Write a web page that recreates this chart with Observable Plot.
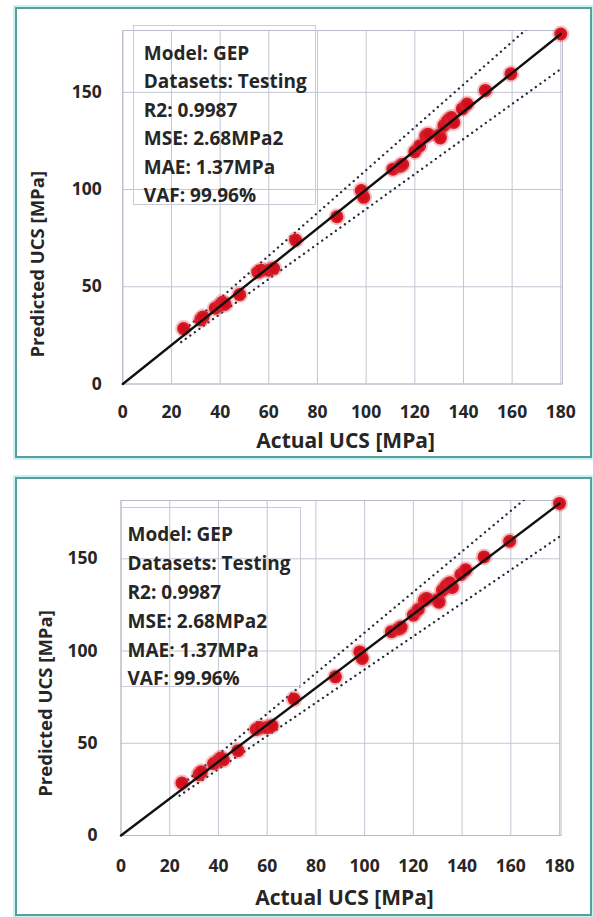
<!DOCTYPE html>
<html><head><meta charset="utf-8">
<script src="https://cdn.jsdelivr.net/npm/d3@7"></script>
<script src="https://cdn.jsdelivr.net/npm/@observablehq/plot@0.6"></script>
<style>
body{margin:0;background:#fff;}
#root{position:relative;width:593px;height:917px;overflow:hidden;font-family:"Open Sans",sans-serif;}
.chart{position:absolute;left:0;z-index:1;}
.panel{position:absolute;border:2px solid #5b9c9d;box-shadow:0 0 0 2px #c6f3f3;box-sizing:border-box;z-index:2;pointer-events:none;}
.legend{position:absolute;border:1px solid #cdc8d6;box-sizing:border-box;z-index:2;}
</style></head><body><div id="root"></div>
<script>
// ---- data ----
const actual    = [25, 32, 33, 38, 40, 41, 42, 48, 55.5, 57, 60, 62, 71, 88, 98, 99, 111, 114, 115, 120, 122, 124.5, 125.5, 130, 130.5, 132, 133.5, 135, 136, 139.5, 141.5, 149, 159.5, 180];
const predicted = [28.5, 33, 34.5, 39, 40.5, 42, 41, 46, 57.5, 58.5, 58.5, 59.5, 74, 86, 99.5, 96, 110.5, 112, 113, 119.5, 122.5, 127.5, 128.5, 128, 126.5, 133, 135.5, 137, 134.5, 141.5, 144, 151, 159.5, 180];
const idealX = [0, 180];
const idealY = [0, 180];
const boundX = [24, 180];
const upperY = [26.4, 198];
const lowerY = [21.6, 162];
const xTicks = [0, 20, 40, 60, 80, 100, 120, 140, 160, 180];
const yTicks = [0, 50, 100, 150];
const legendLines = ["Model: GEP", "Datasets: Testing", "R2: 0.9987", "MSE: 2.68MPa2", "MAE: 1.37MPa", "VAF: 99.96%"];
const xLabel = "Actual UCS [MPa]";
const yLabel = "Predicted UCS [MPa]";

const points = actual.map((a, i) => ({a, p: predicted[i]}));
const ideal = idealX.map((x, i) => ({x, y: idealY[i]}));
const upper = boundX.map((x, i) => ({x, y: upperY[i]}));
const lower = boundX.map((x, i) => ({x, y: lowerY[i]}));

const root = document.getElementById("root");
const ink = "#262626";

function panel(L) {
  const chart = Plot.plot({
    width: 593, height: L.height,
    marginLeft: L.ml, marginRight: L.mr, marginTop: L.mt, marginBottom: L.mb,
    style: {background: "transparent", fontFamily: "'Open Sans', sans-serif", fontSize: "17.5px", fontWeight: 700, color: ink},
    x: {domain: [0, L.xmax], ticks: xTicks, tickSize: 0, tickPadding: L.xpad, label: null},
    y: {domain: [0, L.ymax], ticks: yTicks, tickSize: 0, tickPadding: L.ypad, label: null},
    marks: [
      Plot.gridX(xTicks, {stroke: "#c2c6d2", strokeOpacity: 1, strokeWidth: 1}),
      Plot.gridY(yTicks, {stroke: "#c2c6d2", strokeOpacity: 1, strokeWidth: 1}),
      Plot.frame({stroke: "#b9bdc9", strokeWidth: 1}),
      Plot.line(upper, {x: "x", y: "y", stroke: "#262a36", strokeWidth: 2.3, strokeDasharray: "0.1,5.5", strokeLinecap: "round", clip: true}),
      Plot.line(lower, {x: "x", y: "y", stroke: "#262a36", strokeWidth: 2.3, strokeDasharray: "0.1,5.5", strokeLinecap: "round", clip: true}),
      Plot.dot(points, {x: "a", y: "p", r: 6.5, fill: "#d10f1c", stroke: "#e2343e", strokeOpacity: 0.3, strokeWidth: 4}),
      Plot.line(ideal, {x: "x", y: "y", stroke: "#111", strokeWidth: 2.4}),
      Plot.text([xLabel], {frameAnchor: "bottom", textAnchor: "middle", lineAnchor: "middle", dx: L.xtdx, dy: L.xtdy, fontSize: 21, fill: ink}),
      Plot.text([yLabel], {frameAnchor: "left", textAnchor: "middle", lineAnchor: "middle", rotate: -90, dx: L.ytdx, dy: L.ytdy, fontSize: 18.5, fill: ink}),
      Plot.text([legendLines.join("\n")], {frameAnchor: "top-left", textAnchor: "start", lineAnchor: "top", dx: L.ldx, dy: L.ldy, lineHeight: L.lh, fontSize: 19, fill: ink})
    ]
  });
  chart.classList.add("chart");
  chart.style.top = L.top + "px";
  root.appendChild(chart);
  const p = document.createElement("div");
  p.className = "panel";
  Object.assign(p.style, {left: L.px + "px", top: L.py + "px", width: L.pw + "px", height: L.ph + "px"});
  root.appendChild(p);
  const lg = document.createElement("div");
  lg.className = "legend";
  Object.assign(lg.style, {left: L.bx + "px", top: L.by + "px", width: L.bw + "px", height: L.bh + "px"});
  root.appendChild(lg);
}

panel({top: 0, height: 457, ml: 122.3, mr: 31, mt: 30, mb: 73.5, xmax: 180.7, ymax: 181.8,
  xpad: 22, ypad: 21, xtdx: 3, xtdy: 57, ytdx: -85, ytdy: 57, ldx: 21, ldy: 9, lh: 1.5,
  px: 15, py: 7, pw: 577, ph: 451, bx: 133, by: 25, bw: 183, bh: 180});
panel({top: 457, height: 460, ml: 120.5, mr: 32.5, mt: 43, mb: 82, xmax: 180.6, ymax: 181.6,
  xpad: 24, ypad: 23.5, xtdx: 3.5, xtdy: 63, ytdx: -74.5, ytdy: 35.5, ldx: 6.5, ldy: 20, lh: 1.52,
  px: 15, py: 477, pw: 577, ph: 439, bx: 121, by: 507, bw: 180, bh: 180});
</script></body></html>
